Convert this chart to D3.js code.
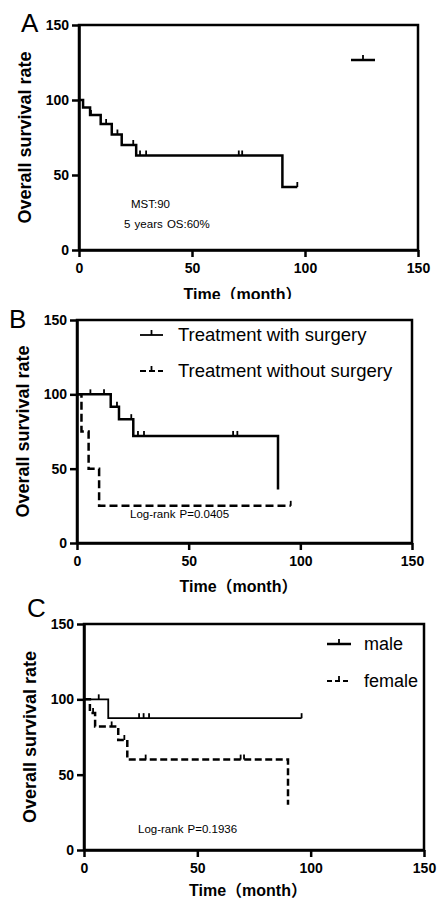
<!DOCTYPE html>
<html lang="en">
<head>
<meta charset="utf-8">
<title>Overall survival</title>
<script src="https://d3js.org/d3.v7.min.js"></script>
<style>
  body { margin: 0; background: #fff; }
  svg text { font-family: "Liberation Sans", Arial, "Noto Sans CJK SC", sans-serif; fill: #000; }
  .tick text { font-size: 14px; font-weight: bold; }
</style>
</head>
<body>
<svg id="chart" width="440" height="899"></svg>
<script>
// ticks
const xTicks = [0, 50, 100, 150];
const yTicks = [0, 50, 100, 150];

// A: all patients
const allTime = [0, 1.8, 4.9, 9.6, 14.5, 18.9, 25.3, 90];
const allSurv = [100, 95, 90, 84, 77, 70, 63, 42];
const allEnd = 96.6;
const allCensor = [5.3, 12, 17, 24, 27, 29.7, 70.7, 72.2, 96.6];

// B: surgery
const surgTime = [0, 15.1, 18.8, 25.2, 90];
const surgSurv = [100, 91.7, 83.3, 72, 36];
const surgEnd = 90;
const surgCensor = [6, 12.1, 17.9, 24.3, 27.3, 30, 69.9, 71.8];
const noSurgTime = [0, 2, 5.2, 9.9];
const noSurgSurv = [100, 75, 50, 25];
const noSurgEnd = 95.7;
const noSurgCensor = [95.7];

// C: sex
const maleTime = [0, 10.7];
const maleSurv = [100, 87.5];
const maleEnd = 96;
const maleCensor = [6.5, 24.3, 26.3, 28.7, 96];
const femaleTime = [0, 2.6, 4.9, 15.1, 19.1, 90];
const femaleSurv = [100, 91, 82, 73, 60, 30];
const femaleEnd = 90;
const femaleCensor = [4, 12.2, 17.8, 27.2, 69.1, 70.6];

const svg = d3.select('#chart');

function panel(opt) {
  const g = svg.append('g');
  if (opt.bgTop != null) {
    g.append('rect').attr('x', 0).attr('y', opt.bgTop).attr('width', 440)
      .attr('height', 899 - opt.bgTop).attr('fill', '#fff');
  }
  const x = d3.scaleLinear().domain([0, 150]).range([opt.left, opt.right]);
  const y = d3.scaleLinear().domain([0, 150]).range([opt.bottom, opt.top]);

  // curves
  opt.series.forEach(function(s) {
    const pts = s.time.map((t, i) => [t, s.surv[i]]);
    if (s.end > s.time[s.time.length - 1]) pts.push([s.end, s.surv[s.surv.length - 1]]);
    const line = d3.line().x(d => x(d[0])).y(d => y(d[1])).curve(d3.curveStepAfter);
    g.append('path').attr('d', line(pts)).attr('fill', 'none')
      .attr('stroke', '#000').attr('stroke-width', s.width)
      .attr('stroke-dasharray', s.dash || null);
    const bis = d3.bisector(d => d).right;
    g.selectAll(null).data(s.censor).enter().append('line')
      .attr('x1', d => x(d)).attr('x2', d => x(d))
      .attr('y1', d => y(s.surv[bis(s.time, d) - 1]))
      .attr('y2', d => y(s.surv[bis(s.time, d) - 1]) - 5)
      .attr('stroke', '#000').attr('stroke-width', 1.8);
  });

  // box
  g.append('rect').attr('x', opt.left).attr('y', opt.top)
    .attr('width', opt.right - opt.left).attr('height', opt.bottom - opt.top)
    .attr('fill', 'none').attr('stroke', '#000').attr('stroke-width', 2.5);

  // axes
  const xa = g.append('g').attr('transform', 'translate(0,' + opt.bottom + ')')
    .call(d3.axisBottom(x).tickValues(xTicks).tickSize(7).tickPadding(6).tickSizeOuter(0));
  const ya = g.append('g').attr('transform', 'translate(' + opt.left + ',0)')
    .call(d3.axisLeft(y).tickValues(yTicks).tickSize(7).tickPadding(3).tickSizeOuter(0));
  [xa, ya].forEach(a => {
    a.select('.domain').attr('stroke-width', 2.5);
    a.selectAll('.tick line').attr('stroke-width', 2.5);
    a.attr('font-family', null).attr('font-size', null);
  });

  // titles
  g.append('text')
    .attr('transform', 'translate(' + (opt.left - 48) + ',' + ((opt.top + opt.bottom) / 2) + ') rotate(-90)')
    .attr('text-anchor', 'middle').style('font-size', '18px').style('font-weight', 'bold')
    .text('Overall survival rate');
  g.append('text')
    .attr('x', (opt.left + opt.right) / 2 - 6).attr('y', opt.titleY)
    .attr('text-anchor', 'middle').style('font-size', '16px').style('font-weight', 'bold')
    .text('Time（month）');
  g.append('text').attr('x', opt.letter[0]).attr('y', opt.letter[1])
    .style('font-size', '26px').text(opt.label);

  // notes
  (opt.notes || []).forEach(n => {
    g.append('text').attr('x', n[0]).attr('y', n[1])
      .style('font-size', '11.5px').style('word-spacing', '1px').text(n[2]);
  });

  // legend
  (opt.legend || []).forEach(l => {
    g.append('line').attr('x1', l.x).attr('x2', l.x + l.w).attr('y1', l.y).attr('y2', l.y)
      .attr('stroke', '#000').attr('stroke-width', l.sw).attr('stroke-dasharray', l.dash || null);
    g.append('line').attr('x1', l.x + l.w / 2).attr('x2', l.x + l.w / 2)
      .attr('y1', l.y).attr('y2', l.y - 5).attr('stroke', '#000').attr('stroke-width', 1.8);
    if (l.text) {
      g.append('text').attr('x', l.tx).attr('y', l.y + 6)
        .style('font-size', l.fs + 'px').text(l.text);
    }
  });
}

panel({
  label: 'A', letter: [21, 32], left: 79, right: 418, top: 25, bottom: 250, titleY: 300,
  series: [{ time: allTime, surv: allSurv, end: allEnd, censor: allCensor, width: 2.5 }],
  notes: [[131, 208, 'MST:90'], [124, 228, '5 years OS:60%']],
  legend: [{ x: 351, w: 24, y: 60, sw: 2.5 }]
});

panel({
  bgTop: 299,
  label: 'B', letter: [9, 328], left: 77, right: 412, top: 320, bottom: 543, titleY: 592,
  series: [
    { time: surgTime, surv: surgSurv, end: surgEnd, censor: surgCensor, width: 2.5 },
    { time: noSurgTime, surv: noSurgSurv, end: noSurgEnd, censor: noSurgCensor, width: 2.5, dash: '8,4' }
  ],
  notes: [[130, 518, 'Log-rank P=0.0405']],
  legend: [
    { x: 140, w: 23, y: 335, sw: 1.8, text: 'Treatment with surgery', tx: 178, fs: 18.5 },
    { x: 140, w: 23, y: 371, sw: 1.8, dash: '6,3', text: 'Treatment without surgery', tx: 178, fs: 18.5 }
  ]
});

panel({
  bgTop: 597,
  label: 'C', letter: [27, 617], left: 84, right: 424, top: 624, bottom: 850, titleY: 896,
  series: [
    { time: maleTime, surv: maleSurv, end: maleEnd, censor: maleCensor, width: 1.8 },
    { time: femaleTime, surv: femaleSurv, end: femaleEnd, censor: femaleCensor, width: 2.5, dash: '7,3.5' }
  ],
  notes: [[138, 833, 'Log-rank P=0.1936']],
  legend: [
    { x: 327, w: 24, y: 644, sw: 2.5, text: 'male', tx: 364, fs: 18 },
    { x: 327, w: 24, y: 681, sw: 1.8, dash: '5,3', text: 'female', tx: 364, fs: 18 }
  ]
});
</script>
</body>
</html>
